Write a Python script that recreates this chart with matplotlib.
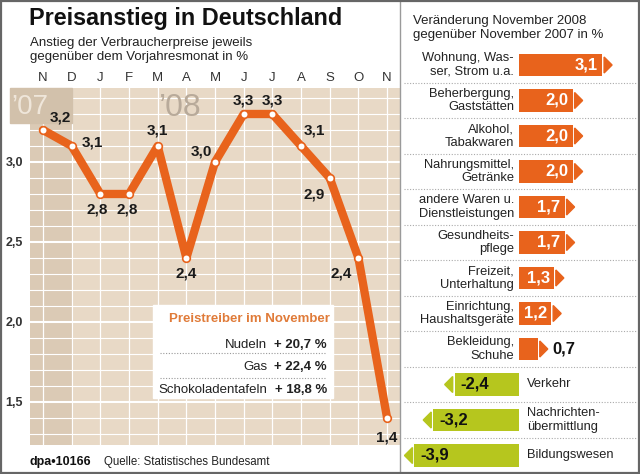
import matplotlib
matplotlib.use('Agg')
import matplotlib.pyplot as plt
from matplotlib.patches import Rectangle, Polygon
from matplotlib.lines import Line2D

plt.rcParams['font.family'] = ['Liberation Sans', 'DejaVu Sans']

# data
months = ['N', 'D', 'J', 'F', 'M', 'A', 'M', 'J', 'J', 'A', 'S', 'O', 'N']
rates = [3.2, 3.1, 2.8, 2.8, 3.1, 2.4, 3.0, 3.3, 3.3, 3.1, 2.9, 2.4, 1.4]
yticks = [1.5, 2.0, 2.5, 3.0]

categories = ['Wohnung, Was-\nser, Strom u.a.', 'Beherbergung,\nGaststätten',
              'Alkohol,\nTabakwaren', 'Nahrungsmittel,\nGetränke',
              'andere Waren u.\nDienstleistungen', 'Gesundheits-\npflege',
              'Freizeit,\nUnterhaltung', 'Einrichtung,\nHaushaltsgeräte',
              'Bekleidung,\nSchuhe', 'Verkehr', 'Nachrichten-\nübermittlung',
              'Bildungswesen']
changes = [3.1, 2.0, 2.0, 2.0, 1.7, 1.7, 1.3, 1.2, 0.7, -2.4, -3.2, -3.9]

drivers = ['Nudeln', 'Gas', 'Schokoladentafeln']
driver_vals = [20.7, 22.4, 18.8]

# label offsets in pixels (dx, dy) for the line chart
offsets = [(17, 12), (21, 3), (-3, -16), (-2, -16), (0, 15), (0, -16), (-14, 10),
           (0, 13), (0, 13), (13, 15), (-16, -17), (-17, -16), (0, -20)]

orange = '#e8631c'
green = '#b6c61e'
W, H = 640, 474


def fx(px):
    return px / W


def fy(py):
    return 1 - py / H


def de(v):
    return ('%.1f' % v).replace('.', ',')


fig = plt.figure(figsize=(6.4, 4.74), dpi=100)
fig.patch.set_facecolor('white')

# line chart axes
ax = fig.add_axes([fx(30), fy(445), (400 - 30) / W, (445 - 88) / H])
ax.set_facecolor('#e8d9c6')
ax.set_xlim(-0.453, 12.45)
ax.set_ylim(1.231, 3.4625)
ax.axvspan(-0.453, 1.0, color='#dbcab5', zorder=0)
for i in range(13):
    ax.axvline(i, color='white', lw=0.9, zorder=1)
for k in range(13, 35):
    v = k / 10
    ax.axhline(v, color='white', lw=1.5 if k % 5 == 0 else 0.8, zorder=1)
for s in ax.spines.values():
    s.set_visible(False)

# year markers ('07 box sticks out to the left of the plot)
px_x = 28.67   # px per month
px_y = 160.0   # px per percent point
ax.add_patch(Rectangle((-0.453 - 20 / px_x, 3.4625 - 35 / px_y), 20 / px_x + 1.453,
                       35 / px_y, color='#d2c1ab', clip_on=False, zorder=1.5))
ax.text(-0.45, 3.4625 - 19 / px_y, '\u201907', fontsize=20, color='#efe6da',
        ha='center', va='center', clip_on=False, zorder=2)
ax.text(4.78, 3.4625 - 20 / px_y, '\u201908', fontsize=23, color='#b8aa9a',
        ha='center', va='center', zorder=2)

x = list(range(len(rates)))
ax.plot(x, rates, color=orange, lw=6, solid_joinstyle='round',
        solid_capstyle='round', zorder=3)
ax.plot(x, rates, 'o', ms=5.5, mfc='white', mec=orange, mew=1.2, zorder=4)
for xi, r, (dx, dy) in zip(x, rates, offsets):
    ax.annotate(de(r), (xi, r), xytext=(dx, dy), textcoords='offset pixels',
                ha='center', va='center', fontsize=11, fontweight='bold',
                color='#1a1a1a', zorder=5)

ax.xaxis.tick_top()
ax.set_xticks(x)
ax.set_xticklabels(months, fontsize=9.5, color='#333333')
ax.set_yticks(yticks)
ax.set_yticklabels([de(v) for v in yticks], fontsize=9, fontweight='bold',
                   color='#333333')
ax.tick_params(length=0, pad=5)
ax.tick_params(axis='x', pad=3)

# titles
fig.text(fx(29), fy(18), 'Preisanstieg in Deutschland', fontsize=16.8,
         fontweight='bold', ha='left', va='center', color='#111111')
fig.text(fx(30), fy(50), 'Anstieg der Verbraucherpreise jeweils\n'
         'gegenüber dem Vorjahresmonat in %', fontsize=9.5, ha='left',
         va='center', color='#222222', linespacing=1.2)

# inset box
fig.patches.append(Rectangle((fx(153), fy(398)), fx(333) - fx(153), fy(305) - fy(398),
                             transform=fig.transFigure, color='white', zorder=3))
fig.text(fx(330), fy(319), 'Preistreiber im November', fontsize=9.5,
         fontweight='bold', color='#e07b39', ha='right', va='center', zorder=4)
row_y = [345, 367, 390]
for name, val, py in zip(drivers, driver_vals, row_y):
    fig.text(fx(267), fy(py), name, fontsize=9.5, ha='right', va='center',
             color='#222222', zorder=4)
    fig.text(fx(327), fy(py), '+ ' + de(val) + ' %', fontsize=9.5,
             fontweight='bold', ha='right', va='center', color='#222222', zorder=4)
for py in [353, 378]:
    fig.lines.append(Line2D([fx(160), fx(326)], [fy(py), fy(py)],
                            transform=fig.transFigure, color='#999999',
                            lw=0.8, ls=(0, (1, 1.5)), zorder=4))

# footer
fig.text(fx(30), fy(462), 'dpa\u202210166', fontsize=9, fontweight='bold',
         ha='left', va='center', color='#111111')
fig.text(fx(104), fy(462), 'Quelle: Statistisches Bundesamt', fontsize=8.3,
         ha='left', va='center', color='#222222')

# right panel
fig.text(fx(413), fy(28), 'Veränderung November 2008\n'
         'gegenüber November 2007 in %', fontsize=9.5, ha='left', va='center',
         color='#222222', linespacing=1.2)

ax2 = fig.add_axes([fx(401), fy(472), (638 - 401) / W, (472 - 47.25) / H])
ax2.set_xlim(-4.403, 4.44)
ax2.set_ylim(11.465, -0.5)
ax2.axis('off')
unit = 26.8  # px per percent
row = 35.5   # px per row
gap = 2 / unit
tri_w = 8 / unit
tri_h = 16 / row / 2
bh = 0.64
for i, (cat, v) in enumerate(zip(categories, changes)):
    col = orange if v > 0 else green
    ax2.barh(i, v, height=bh, color=col, zorder=2)
    sgn = 1 if v > 0 else -1
    b = v + sgn * gap
    ax2.add_patch(Polygon([(b, i - tri_h), (b, i + tri_h), (b + sgn * tri_w, i)],
                          closed=True, color=col, zorder=2))
    if v > 0:
        ax2.text(-5 / unit, i, cat, ha='right', va='center', fontsize=9.3,
                 color='#222222', linespacing=1.15)
        if v >= 1:
            ax2.text(v - 4 / unit, i, de(v), ha='right', va='center',
                     fontsize=12, fontweight='bold', color='white')
        else:
            ax2.text(b + tri_w + 5 / unit, i, de(v), ha='left', va='center',
                     fontsize=12, fontweight='bold', color='#111111')
    else:
        ax2.text(8 / unit, i, cat, ha='left', va='center', fontsize=9.3,
                 color='#222222', linespacing=1.15)
        ax2.text(v + 6 / unit, i, de(v), ha='left', va='center',
                 fontsize=12, fontweight='bold', color='#111111')
    if i < len(changes) - 1:
        ax2.plot([-4.3, 4.35], [i + 0.5, i + 0.5], color='#aaaaaa', lw=0.8,
                 ls=(0, (1, 1.5)), zorder=1)

# separators and frame
fig.lines.append(Line2D([fx(400), fx(400)], [fy(0), fy(472)],
                        transform=fig.transFigure, color='#9a9a9a', lw=1))
fig.patches.append(Rectangle((0.0015, fy(472.5)), 0.997, fy(1) - fy(472.5),
                             transform=fig.transFigure, fill=False,
                             ec='#666666', lw=1.6, zorder=10))

fig.savefig('out.png', dpi=100)
